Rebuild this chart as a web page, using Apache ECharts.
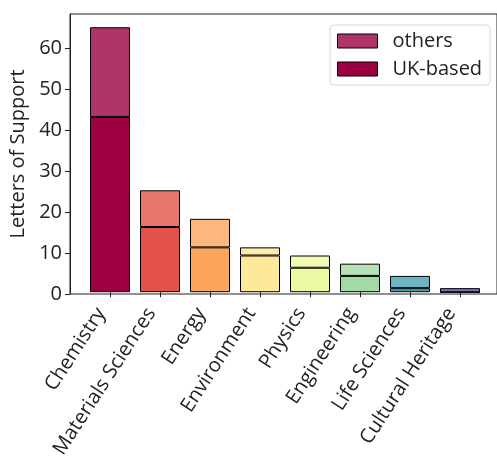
<!DOCTYPE html>
<html>
<head>
<meta charset="utf-8">
<script src="https://cdn.jsdelivr.net/npm/echarts@6/dist/echarts.min.js"></script>
<style>
  html, body { margin: 0; padding: 0; background: #fff; }
  #chart { width: 497px; height: 461px; }
</style>
</head>
<body>
<div id="chart"></div>
<script>
window.addEventListener('load', function () {

    // data
    let categories = ['Chemistry', 'Materials Sciences', 'Energy', 'Environment',
                      'Physics', 'Engineering', 'Life Sciences', 'Cultural Heritage']
    let ukBased = [43, 16, 11, 9, 6, 4, 1, 0]
    let others = [22, 9, 7, 2, 3, 3, 3, 1]
    let yTicks = [0, 10, 20, 30, 40, 50, 60]

    // Spectral colormap, one colour per field
    let palette = ['#9e0142', '#e2524a', '#fca55d', '#fee99a',
                   '#edf8a3', '#a2d9a4', '#48a0b2', '#5e4fa2']

    function fade(hex, a) {
        let r = parseInt(hex.slice(1, 3), 16)
        let g = parseInt(hex.slice(3, 5), 16)
        let b = parseInt(hex.slice(5, 7), 16)
        return 'rgba(' + r + ',' + g + ',' + b + ',' + a + ')'
    }

    let yMax = 68.25
    let font = 'Open Sans'
    let fs = 20

    let chart = echarts.init(document.getElementById('chart'))
    chart.setOption({
        animation: false,
        textStyle: { fontFamily: font },
        grid: [
            // frame + y axis
            { left: 70, top: 14, width: 430, height: 280, show: true,
              borderColor: '#222', borderWidth: 1, backgroundColor: 'transparent' },
            // bars, matplotlib-like margins
            { left: 85, top: 14, width: 400, height: 280 }
        ],
        legend: {
            data: ['others', 'UK-based'],
            orient: 'vertical',
            left: 330, top: 25,
            icon: 'rect',
            itemWidth: 40, itemHeight: 14, itemGap: 8,
            padding: [6, 8, 6, 7],
            backgroundColor: 'rgba(255,255,255,0.8)',
            borderColor: '#d8d8d8', borderWidth: 1, borderRadius: 4,
            textStyle: { fontFamily: font, fontSize: fs, color: '#222', padding: [0, 0, 0, 10] },
            itemStyle: { borderColor: '#000', borderWidth: 1 }
        },
        xAxis: [
            { gridIndex: 0, type: 'value', min: 0, max: 1, show: false },
            {
                gridIndex: 1, type: 'category', data: categories,
                axisLine: { show: false },
                axisTick: { show: true, alignWithLabel: true, length: 5, lineStyle: { color: '#222' } },
                axisLabel: { rotate: 57, interval: 0, margin: 4, padding: [0, 16, 0, 0],
                             fontFamily: font, fontSize: fs, color: '#222' }
            }
        ],
        yAxis: [
            {
                gridIndex: 0, type: 'value', min: 0, max: yMax,
                name: 'Letters of Support', nameLocation: 'middle', nameGap: 40,
                nameTextStyle: { fontFamily: font, fontSize: fs, color: '#222' },
                axisLine: { show: true, lineStyle: { color: '#222' } },
                axisTick: { show: true, length: 5, customValues: yTicks, lineStyle: { color: '#222' } },
                axisLabel: { customValues: yTicks, margin: 8, fontFamily: font, fontSize: fs, color: '#222' },
                splitLine: { show: false }
            },
            { gridIndex: 1, type: 'value', min: 0, max: yMax, show: false }
        ],
        series: [
            {
                name: 'UK-based', type: 'bar', stack: 'total',
                xAxisIndex: 1, yAxisIndex: 1, barWidth: 40,
                itemStyle: { color: palette[0], borderColor: '#000', borderWidth: 1 },
                data: ukBased.map(function (v, i) {
                    return { value: v, itemStyle: { color: palette[i] } }
                })
            },
            {
                name: 'others', type: 'bar', stack: 'total',
                xAxisIndex: 1, yAxisIndex: 1, barWidth: 40,
                itemStyle: { color: fade(palette[0], 0.8), borderColor: '#000', borderWidth: 1 },
                data: others.map(function (v, i) {
                    return { value: v, itemStyle: { color: fade(palette[i], 0.8) } }
                })
            }
        ]
    })
})
</script>
</body>
</html>
